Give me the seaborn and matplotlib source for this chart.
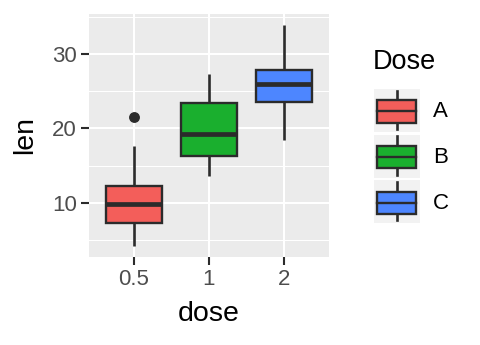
import matplotlib
matplotlib.use("Agg")
import matplotlib.pyplot as plt
import numpy as np
import pandas as pd
import seaborn as sns
from matplotlib.patches import Rectangle
from matplotlib.lines import Line2D
from matplotlib.legend_handler import HandlerBase
from matplotlib.ticker import MultipleLocator

# Tooth length by vitamin C dose
dose_levels = ["0.5", "1", "2"]
legend_labels = ["A", "B", "C"]
legend_title = "Dose"
box_colors = ["#F35E5A", "#1AAF2E", "#4D86FF"]

len_dose_05 = [4.2, 11.5, 7.3, 5.8, 6.4, 10.0, 11.2, 11.2, 5.2, 7.0,
               15.2, 21.5, 17.6, 9.7, 14.5, 10.0, 8.2, 9.4, 16.5, 9.7]
len_dose_1 = [16.5, 16.5, 15.2, 17.3, 22.5, 17.3, 13.6, 14.5, 18.8, 15.5,
              19.7, 23.3, 23.6, 26.4, 20.0, 25.2, 25.8, 21.2, 14.5, 27.3]
len_dose_2 = [23.6, 18.5, 33.9, 25.5, 26.4, 32.5, 26.7, 21.5, 23.3, 29.5,
              25.5, 26.4, 22.4, 24.5, 24.8, 30.9, 26.4, 27.3, 29.4, 23.0]

df = pd.DataFrame({
    "dose": ["0.5"] * len(len_dose_05) + ["1"] * len(len_dose_1) + ["2"] * len(len_dose_2),
    "len": len_dose_05 + len_dose_1 + len_dose_2,
})

INK = "#2B2B2B"
LW = 1.7
plt.rcParams["font.family"] = ["Liberation Sans", "DejaVu Sans"]

fig = plt.figure(figsize=(4.8, 3.45), dpi=100)
ax = fig.add_axes([89 / 480, 1 - 257 / 345, 240 / 480, 243 / 345])
ax.set_facecolor("#EBEBEB")

sns.boxplot(
    data=df, x="dose", y="len", hue="dose", order=dose_levels,
    hue_order=dose_levels, palette=box_colors, legend=False, dodge=False,
    width=0.75, linewidth=LW, linecolor=INK, saturation=1, ax=ax,
    showcaps=False,
    boxprops={"edgecolor": INK, "linewidth": LW},
    whiskerprops={"color": INK, "linewidth": 1.9},
    medianprops={"color": INK, "linewidth": 3.4},
    flierprops={"marker": "o", "markersize": 6.8, "markerfacecolor": INK,
                "markeredgecolor": INK},
    zorder=3,
)

ax.set_xlim(-0.6, 2.6)
ax.set_ylim(2.715, 35.385)
ax.yaxis.set_major_locator(MultipleLocator(10))
ax.yaxis.set_minor_locator(MultipleLocator(5))
ax.grid(which="major", color="white", linewidth=1.5, zorder=0)
ax.grid(which="minor", axis="y", color="white", linewidth=0.75, zorder=0)
ax.set_axisbelow(True)
for s in ax.spines.values():
    s.set_visible(False)
ax.tick_params(axis="both", which="major", length=5.8, width=1.5, color=INK,
               labelsize=16, labelcolor="#4D4D4D", pad=3)
ax.tick_params(axis="y", which="minor", length=0)
ax.set_xlabel("dose", fontsize=20.5, labelpad=7.5)
ax.set_ylabel("len", fontsize=20.5, labelpad=10)


class BoxKeyHandler(HandlerBase):
    def __init__(self, color):
        super().__init__()
        self.color = color

    def create_artists(self, legend, orig_handle, xdescent, ydescent,
                       width, height, fontsize, trans):
        x0, y0 = -xdescent, -ydescent
        bg = Rectangle((x0, y0), width, height, facecolor="#F2F2F2",
                       edgecolor="none", transform=trans)
        cx = x0 + width / 2
        bx0, bx1 = x0 + width * 0.07, x0 + width * 0.93
        by0, by1 = y0 + height * 0.22, y0 + height * 0.74
        whisk_lo = Line2D([cx, cx], [y0 + height * 0.07, by0], color=INK,
                          linewidth=1.9, transform=trans)
        whisk_hi = Line2D([cx, cx], [by1, y0 + height * 0.96], color=INK,
                          linewidth=1.9, transform=trans)
        box = Rectangle((bx0, by0), bx1 - bx0, by1 - by0, facecolor=self.color,
                        edgecolor=INK, linewidth=LW, transform=trans)
        med = Line2D([bx0, bx1], [(by0 + by1) / 2] * 2, color=INK,
                     linewidth=LW, transform=trans)
        return [bg, whisk_lo, whisk_hi, box, med]


handles = [Rectangle((0, 0), 1, 1) for _ in legend_labels]
handler_map = {h: BoxKeyHandler(c) for h, c in zip(handles, box_colors)}
leg = fig.legend(
    handles, legend_labels, handler_map=handler_map,
    loc="upper left", bbox_to_anchor=(374 / 480, 1 - 89 / 345),
    frameon=False, fontsize=16,
    handlelength=2.05, handleheight=2.6, handletextpad=0.6,
    labelspacing=0.12, borderaxespad=0, borderpad=0,
)
fig.text(373 / 480, 1 - 49 / 345, legend_title, fontsize=19.5,
         ha="left", va="top")

fig.savefig("out.png", dpi=100)
